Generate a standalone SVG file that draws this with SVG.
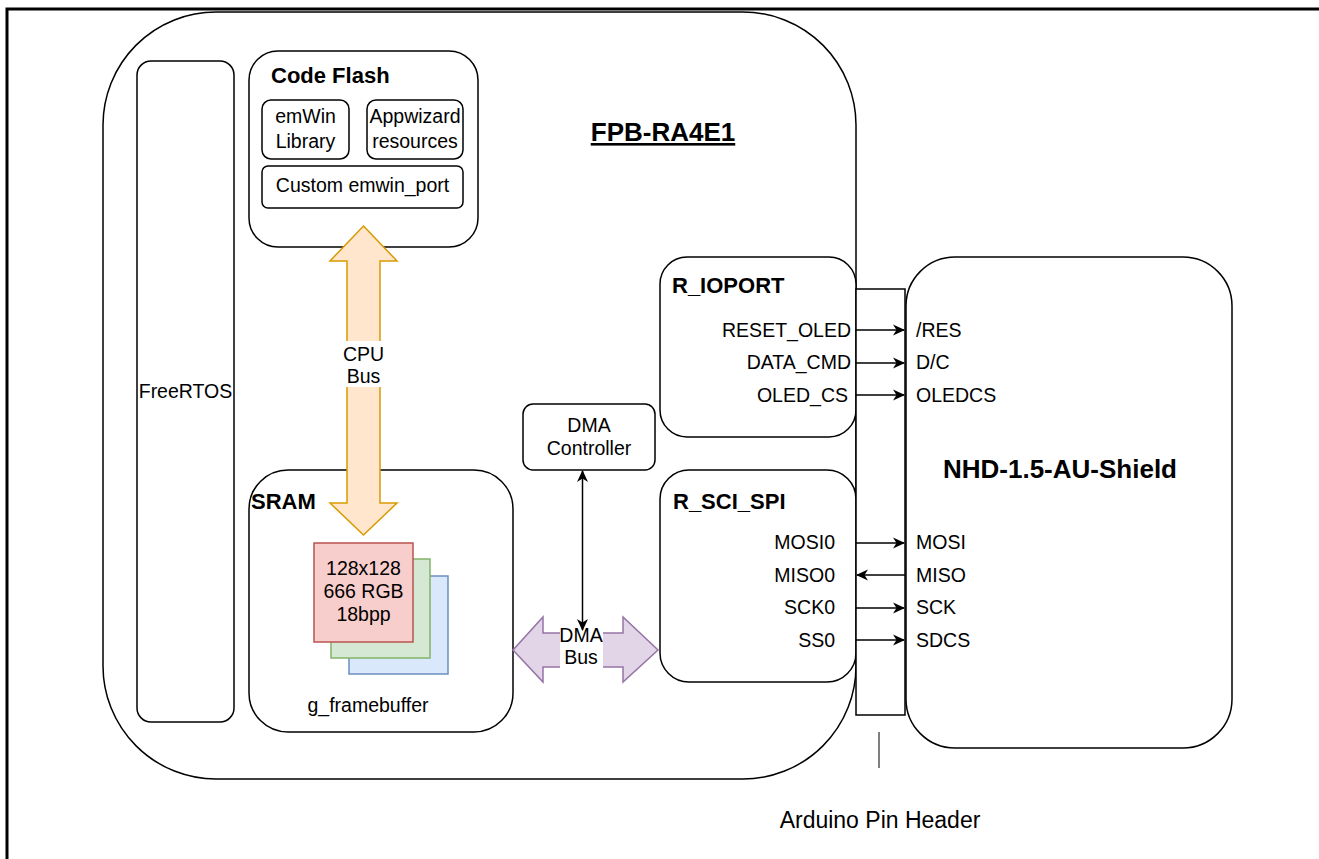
<svg xmlns="http://www.w3.org/2000/svg" width="1319" height="859" viewBox="0 0 1319 859">
<style>
  text { font-family: "Liberation Sans", Arial, sans-serif; fill: #000; }
  .t { font-size: 19.5px; }
  .b { font-size: 22px; font-weight: bold; }
  .box { fill: #fff; stroke: #000; stroke-width: 1.5; }
  .c { text-anchor: middle; }
  .r { text-anchor: end; }
  .sig { stroke: #000; stroke-width: 1.5; fill: none; }
</style>
<defs>
  <marker id="ah" viewBox="0 0 12 12" refX="11" refY="6" markerWidth="12" markerHeight="12" markerUnits="userSpaceOnUse" orient="auto-start-reverse">
    <path d="M0,0.5 L12,6 L0,11.5 L3.5,6 Z" fill="#000"/>
  </marker>
</defs>
<rect width="1319" height="859" fill="#fff"/>
<path d="M7,859 V9 H1319" fill="none" stroke="#000" stroke-width="3"/>

<g id="fpb-ra4e1">
  <rect class="box" x="103" y="12" width="753" height="767" rx="113" ry="113"/>
  <text x="663" y="141" class="c" style="font-size:26px;font-weight:bold;text-decoration:underline">FPB-RA4E1</text>
</g>

<g id="freertos">
  <rect class="box" x="137" y="61" width="97" height="661" rx="14" ry="14"/>
  <text x="185.5" y="398" class="t c">FreeRTOS</text>
</g>

<g id="code-flash">
  <rect class="box" x="249" y="51" width="229" height="196" rx="29" ry="29"/>
  <text x="271" y="83" class="b">Code Flash</text>
</g>
<g id="emwin-library">
  <rect class="box" x="262" y="100" width="87" height="59" rx="9" ry="9"/>
  <text x="305.5" y="123" class="t c">emWin</text>
  <text x="305.5" y="148" class="t c">Library</text>
</g>
<g id="appwizard-resources">
  <rect class="box" x="367" y="100" width="96" height="59" rx="9" ry="9"/>
  <text x="415" y="123" class="t c">Appwizard</text>
  <text x="415" y="148" class="t c">resources</text>
</g>
<g id="custom-emwin-port">
  <rect class="box" x="262" y="166" width="201" height="42" rx="6" ry="6"/>
  <text x="362.5" y="192" class="t c">Custom emwin_port</text>
</g>

<g id="sram">
  <rect class="box" x="249" y="470" width="264" height="262" rx="39" ry="39"/>
  <text x="251" y="509" class="b">SRAM</text>
  <text x="368" y="712" class="t c">g_framebuffer</text>
</g>
<g id="framebuffer">
  <rect x="349" y="576" width="99" height="98" fill="#dae8fc" stroke="#6c8ebf" stroke-width="1.5"/>
  <rect x="331" y="559" width="99" height="99" fill="#d5e8d4" stroke="#82b366" stroke-width="1.5"/>
  <rect x="314" y="543" width="99" height="99" fill="#f8cecc" stroke="#b85450" stroke-width="1.5"/>
  <text x="363.5" y="575" class="t c">128x128</text>
  <text x="363.5" y="598" class="t c">666 RGB</text>
  <text x="363.5" y="621" class="t c">18bpp</text>
</g>

<g id="cpu-bus">
  <polygon points="363.5,226 397,261 380,261 380,503 397,503 363.5,535 330,503 347,503 347,261 330,261" fill="#ffe6cc" stroke="#d79b00" stroke-width="1.5" stroke-linejoin="miter"/>
  <rect x="342" y="341" width="43" height="46" fill="#fff"/>
  <text x="363.5" y="361" class="t c">CPU</text>
  <text x="363.5" y="383" class="t c">Bus</text>
</g>

<g id="dma-controller">
  <rect class="box" x="523" y="404" width="132" height="66" rx="10" ry="10"/>
  <text x="589" y="432" class="t c">DMA</text>
  <text x="589" y="455" class="t c">Controller</text>
</g>

<g id="dma-bus">
  <polygon points="513,650 543,617 543,633 623,633 623,617 658,650 623,682 623,667 543,667 543,682" fill="#e1d5e7" stroke="#9673a6" stroke-width="1.5"/>
  <rect x="560" y="623" width="43" height="45" fill="#fff"/>
  <text x="581" y="642" class="t c">DMA</text>
  <text x="581" y="664" class="t c">Bus</text>
</g>

<g id="r-ioport">
  <rect class="box" x="660" y="257" width="196" height="180" rx="27" ry="27"/>
  <text x="672" y="293" class="b">R_IOPORT</text>
  <text x="851" y="337" class="t r">RESET_OLED</text>
  <text x="851" y="369" class="t r">DATA_CMD</text>
  <text x="848" y="402" class="t r">OLED_CS</text>
</g>

<g id="r-sci-spi">
  <rect class="box" x="660" y="470" width="196" height="212" rx="29" ry="29"/>
  <text x="673" y="509" class="b">R_SCI_SPI</text>
  <text x="835" y="549" class="t r">MOSI0</text>
  <text x="835" y="582" class="t r">MISO0</text>
  <text x="835" y="614" class="t r">SCK0</text>
  <text x="835" y="647" class="t r">SS0</text>
</g>

<g id="arduino-pin-header">
  <rect class="box" x="856" y="289" width="49" height="426"/>
  <line x1="879" y1="732" x2="879" y2="768" stroke="#555" stroke-width="1.5"/>
  <text x="880" y="828" class="c" style="font-size:23px">Arduino Pin Header</text>
</g>

<g id="nhd-shield">
  <rect class="box" x="906" y="257" width="326" height="491" rx="49" ry="49"/>
  <text x="1060" y="478" class="c" style="font-size:26px;font-weight:bold">NHD-1.5-AU-Shield</text>
  <text x="916" y="337" class="t">/RES</text>
  <text x="916" y="369" class="t">D/C</text>
  <text x="916" y="402" class="t">OLEDCS</text>
  <text x="916" y="549" class="t">MOSI</text>
  <text x="916" y="582" class="t">MISO</text>
  <text x="916" y="614" class="t">SCK</text>
  <text x="916" y="647" class="t">SDCS</text>
</g>

<g id="connectors">
  <line class="sig" x1="856" y1="330" x2="904" y2="330" marker-end="url(#ah)"/>
  <line class="sig" x1="856" y1="363" x2="904" y2="363" marker-end="url(#ah)"/>
  <line class="sig" x1="856" y1="395" x2="904" y2="395" marker-end="url(#ah)"/>
  <line class="sig" x1="856" y1="543" x2="904" y2="543" marker-end="url(#ah)"/>
  <line class="sig" x1="905" y1="575" x2="857" y2="575" marker-end="url(#ah)"/>
  <line class="sig" x1="856" y1="608" x2="904" y2="608" marker-end="url(#ah)"/>
  <line class="sig" x1="856" y1="640" x2="904" y2="640" marker-end="url(#ah)"/>
  <line class="sig" x1="582.5" y1="471" x2="582.5" y2="630" marker-start="url(#ah)" marker-end="url(#ah)"/>
</g>
</svg>
